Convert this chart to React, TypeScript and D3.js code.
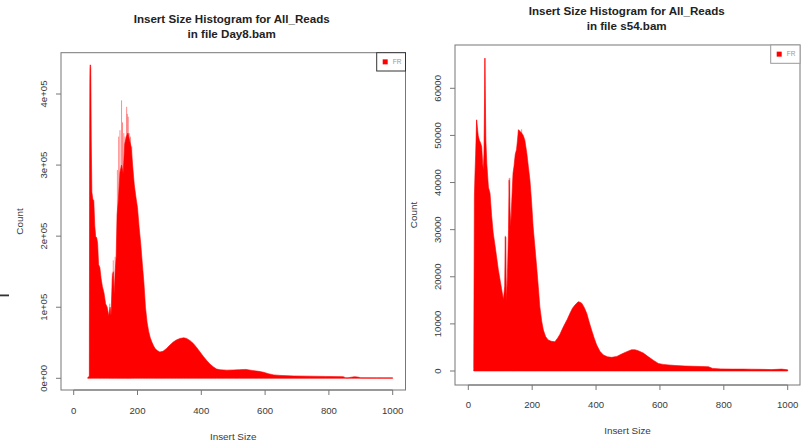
import React from 'react';
import * as d3 from 'd3';

// insert size (bp) and read counts
const day8Sizes = [44, 49, 50, 51, 52, 53, 54, 55, 57, 60, 63, 66, 69, 72, 75, 78, 82, 86, 90, 95, 100, 105, 110, 114, 117, 121, 124, 127, 130, 133, 136, 140, 145, 150, 155, 160, 165, 170, 175, 180, 185, 190, 195, 200, 205, 210, 215, 220, 225, 230, 235, 240, 245, 250, 255, 262, 270, 280, 291, 300, 312, 322, 333, 345, 354, 365, 375, 386, 396, 406, 417, 427, 438, 448, 459, 480, 501, 520, 540, 560, 580, 595, 610, 627, 650, 690, 740, 790, 845, 852, 860, 870, 880, 890, 900, 950, 1000];
const day8Counts = [1e3, 3e3, 300e3, 420e3, 436e3, 441e3, 400e3, 335e3, 262e3, 252e3, 250e3, 215e3, 199e3, 198e3, 190e3, 160e3, 156e3, 140e3, 129e3, 120e3, 105e3, 100e3, 88e3, 100e3, 88e3, 140e3, 150e3, 118e3, 150e3, 170e3, 230e3, 251e3, 290e3, 300e3, 288e3, 330e3, 340e3, 345e3, 335e3, 326e3, 298e3, 272e3, 255e3, 240e3, 213e3, 190e3, 162e3, 135e3, 100e3, 79e3, 66e3, 57e3, 51e3, 46e3, 42e3, 39e3, 37e3, 38e3, 42e3, 46e3, 51e3, 54e3, 56e3, 57e3, 56e3, 53e3, 49e3, 43e3, 37e3, 31e3, 25e3, 20e3, 16e3, 13e3, 12e3, 11.5e3, 11.7e3, 12.2e3, 12.5e3, 11e3, 9.8e3, 8.5e3, 6.5e3, 4.8e3, 4e3, 3.3e3, 3e3, 2.6e3, 2.3e3, 0.8e3, 0.6e3, 1.5e3, 2.2e3, 1.8e3, 0.8e3, 0.7e3, 0.6e3];
const day8SpikeSizes = [51, 53, 113, 121, 124, 130, 137, 141, 145, 150, 153, 157, 161, 166, 168, 171, 174, 178, 182];
const day8SpikeCounts = [441e3, 436e3, 105e3, 148e3, 166e3, 171e3, 293e3, 340e3, 349e3, 391e3, 360e3, 345e3, 340e3, 382e3, 372e3, 368e3, 345e3, 340e3, 326e3];

const s54Sizes = [17, 18, 19, 21, 23, 26, 28, 31, 34.5, 38, 42, 45, 47, 49, 51, 52, 53, 55, 58, 63, 68, 73, 78, 84, 89, 94, 99, 104, 110, 114, 116, 118, 120, 123, 126, 128, 130, 133, 136, 140, 143, 147, 151, 154, 157, 160, 163, 167, 172, 177, 183, 188, 193, 198, 203, 209, 214, 219, 224, 230, 235, 242, 250, 260, 271, 280, 287, 295, 303, 310, 318, 326, 334, 344, 350, 355, 363, 371, 378, 386, 394, 402, 412, 423, 436, 449, 465, 480, 496, 511, 522, 532, 548, 564, 579, 595, 610, 626, 650, 678, 705, 731, 752, 765, 790, 825, 860, 887, 920, 950, 981, 1000];
const s54Counts = [500, 20000, 37000, 42000, 46000, 53300, 52000, 50000, 49000, 48500, 47600, 44000, 42700, 46000, 58000, 66400, 60000, 49000, 44000, 39000, 37700, 33000, 29300, 26500, 24000, 21500, 19500, 17500, 15100, 18000, 28500, 20000, 14700, 22000, 30000, 40500, 35000, 30600, 36000, 42000, 43400, 46000, 47000, 49000, 51200, 51000, 50800, 50500, 50000, 49000, 46300, 43400, 40500, 36000, 30600, 26000, 22100, 18000, 13600, 10500, 8700, 7300, 6600, 6300, 6200, 7000, 7800, 9000, 10100, 11000, 12200, 13300, 14000, 14700, 14600, 14400, 13500, 12200, 10500, 8700, 7000, 5500, 4200, 3400, 3000, 2900, 3100, 3600, 4100, 4500, 4500, 4300, 3800, 3000, 2300, 1600, 1400, 1300, 1150, 1060, 1000, 950, 900, 550, 450, 400, 400, 380, 350, 300, 400, 250];
const s54SpikeSizes = [26, 52, 116, 118, 128, 130, 157, 162, 167];
const s54SpikeCounts = [53300, 66400, 28700, 28400, 40900, 41000, 51200, 51000, 51300];

const xTicks = [0, 200, 400, 600, 800, 1000];
const day8YTicks = [0, 1e5, 2e5, 3e5, 4e5];
const day8YLabels = ['0e+00', '1e+05', '2e+05', '3e+05', '4e+05'];
const s54YTicks = [0, 10000, 20000, 30000, 40000, 50000, 60000];
const s54YLabels = ['0', '10000', '20000', '30000', '40000', '50000', '60000'];

const FONT = 'Liberation Sans, Arial, sans-serif';

function Panel({cfg}) {
  const x = d3.scaleLinear().domain([0, 1000]).range([cfg.x0, cfg.x1]);
  const y = d3.scaleLinear().domain([0, cfg.yRef]).range([cfg.y0, cfg.yRefPx]);
  const pts = cfg.sizes.map((s, i) => [s, cfg.counts[i]]);
  const area = d3.area().x((d) => x(d[0])).y0(y(0)).y1((d) => y(d[1]));
  const cx = (cfg.boxL + cfg.boxR) / 2;
  const axisY = cfg.boxB;
  const axisX = cfg.boxL;

  return (
    <g fontFamily={FONT}>
      <text x={cfg.titleX} y={cfg.titleY} textAnchor="middle" fontWeight="bold" fontSize={11.6} fill="#222">
        Insert Size Histogram for All_Reads
      </text>
      <text x={cfg.titleX} y={cfg.titleY + 15} textAnchor="middle" fontWeight="bold" fontSize={11.6} fill="#222">
        {cfg.subtitle}
      </text>

      {/* thin spikes sit behind the solid body */}
      {cfg.spikeSizes.map((s, i) => (
        <line key={i} x1={x(s)} x2={x(s)} y1={y(0)} y2={y(cfg.spikeCounts[i])} stroke="#ff0000" strokeWidth={0.9} opacity={0.5} />
      ))}
      <path d={area(pts)} fill="#ff0000" stroke="#ff0000" strokeWidth={0.6} />

      <rect x={cfg.boxL} y={cfg.boxT} width={cfg.boxR - cfg.boxL} height={cfg.boxB - cfg.boxT} fill="none" stroke="#777" strokeWidth={1} />

      {/* x axis */}
      <line x1={x(0)} x2={x(1000)} y1={axisY} y2={axisY} stroke="#777" />
      {xTicks.map((t) => (
        <g key={t}>
          <line x1={x(t)} x2={x(t)} y1={axisY} y2={axisY + 5} stroke="#777" />
          <text x={x(t)} y={cfg.xLabY} textAnchor="middle" fontSize={9.6} fill="#3a3a3a">{t}</text>
        </g>
      ))}
      <text x={cx} y={cfg.xTitleY} textAnchor="middle" fontSize={9.9} fill="#3a3a3a">Insert Size</text>

      {/* y axis */}
      {cfg.yTicks.map((t, i) => (
        <g key={t}>
          <line x1={axisX - 5} x2={axisX} y1={y(t)} y2={y(t)} stroke="#777" />
          <text transform={`translate(${cfg.yLabX},${y(t)}) rotate(-90)`} textAnchor="middle" fontSize={9.6} fill="#3a3a3a">
            {cfg.yLabels[i]}
          </text>
        </g>
      ))}
      <text transform={`translate(${cfg.yTitleX},${cfg.yTitleY}) rotate(-90)`} textAnchor="middle" fontSize={9.9} fill="#3a3a3a">Count</text>

      {/* legend */}
      <rect x={cfg.legL} y={cfg.boxT} width={cfg.boxR - cfg.legL} height={cfg.legH} fill="#fff" stroke={cfg.legStroke} strokeWidth={1} />
      <rect x={cfg.legL + 6} y={cfg.boxT + cfg.legH / 2 - 2.5} width={5} height={5} fill="#ff0000" />
      <text x={cfg.legL + 16} y={cfg.boxT + cfg.legH / 2 + 2.2} fontSize={6.5} fill="#999">FR</text>
    </g>
  );
}

const leftCfg = {
  sizes: day8Sizes, counts: day8Counts, spikeSizes: day8SpikeSizes, spikeCounts: day8SpikeCounts,
  yTicks: day8YTicks, yLabels: day8YLabels, subtitle: 'in file Day8.bam',
  x0: 73.7, x1: 392.7, y0: 378.3, yRef: 4e5, yRefPx: 94,
  boxL: 61, boxR: 405.5, boxT: 52.7, boxB: 390,
  titleX: 231.7, titleY: 23.3, xLabY: 414, xTitleY: 440, yLabX: 46.5, yTitleX: 22.5, yTitleY: 221.5,
  legL: 376.7, legH: 18.3, legStroke: '#333',
};

const rightCfg = {
  sizes: s54Sizes, counts: s54Counts, spikeSizes: s54SpikeSizes, spikeCounts: s54SpikeCounts,
  yTicks: s54YTicks, yLabels: s54YLabels, subtitle: 'in file s54.bam',
  x0: 468.3, x1: 787.7, y0: 371, yRef: 60000, yRefPx: 88.3,
  boxL: 455, boxR: 800, boxT: 45, boxB: 385,
  titleX: 626.7, titleY: 14.7, xLabY: 407.6, xTitleY: 433.5, yLabX: 441, yTitleX: 416.5, yTitleY: 215,
  legL: 770.7, legH: 18.3, legStroke: '#999',
};

export default function App() {
  return (
    <svg width={804} height={444} style={{position: 'absolute', left: 0, top: 0, background: '#fff'}}>
      <rect x={0} y={0} width={804} height={444} fill="#fff" />
      <Panel cfg={leftCfg} />
      <Panel cfg={rightCfg} />
      <rect x={0} y={294.5} width={9} height={1.8} fill="#333" />
    </svg>
  );
}
